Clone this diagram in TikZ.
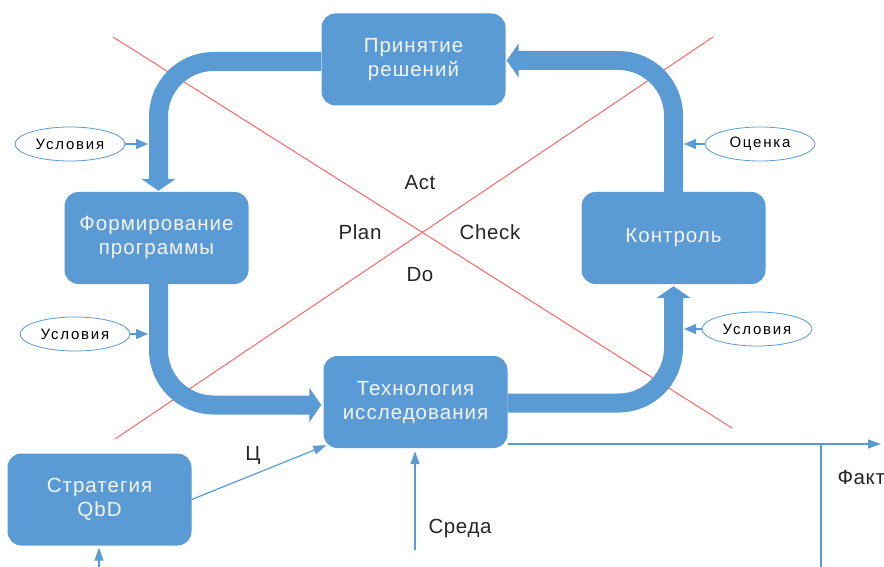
\documentclass[tikz,border=0pt]{standalone}
\usepackage{fontspec}
\setmainfont{Liberation Sans}
\usetikzlibrary{arrows.meta,calc,shapes.geometric}
\definecolor{boxblue}{HTML}{5B9BD5}
\definecolor{boxtext}{HTML}{F4F4F4}
\definecolor{redline}{HTML}{FF5A5A}
\newfontfamily\boxfont[LetterSpace=5]{Liberation Sans}
\newfontfamily\ellfont[LetterSpace=12]{Liberation Sans}
\newfontfamily\labfont[LetterSpace=3]{Liberation Sans}
\begin{document}
\begin{tikzpicture}[x=1pt,y=-1pt,
  bluebox/.style={draw=none,fill=boxblue,rounded corners=14pt,minimum width=184pt,minimum height=92pt,
    text=boxtext,align=center,font=\boxfont\fontsize{20.5}{24}\selectfont,inner sep=0pt},
  condell/.style={draw=boxblue,line width=0.8pt,fill=white,ellipse,minimum width=110pt,minimum height=34pt,
    inner sep=0pt,font=\ellfont\fontsize{15}{17}\selectfont},
  fatarrow/.style={draw=boxblue,line width=19pt,rounded corners=55pt,-{Triangle[width=34pt,length=12pt]}},
  smallarrow/.style={draw=boxblue,line width=1.2pt,-{Triangle[width=10pt,length=12pt]}},
  thinarrow/.style={draw=boxblue,line width=1.2pt,-{Triangle[width=9pt,length=13pt]}},
  thinline/.style={draw=boxblue,line width=1.2pt},
  crossline/.style={draw=redline,line width=0.9pt},
  pdca/.style={font=\labfont\fontsize{20.5}{23}\selectfont,text=black!85},
  sidelabel/.style={font=\labfont\fontsize{20.5}{23}\selectfont,text=black!85}
]
\useasboundingbox (0,0) rectangle (884,567);
\fill[white] (0,0) rectangle (884,567);

% red cross
\coordinate (rA1) at (113,37);
\coordinate (rA2) at (732,428);
\coordinate (rB1) at (713,37);
\coordinate (rB2) at (115,439);
\draw[crossline] (rA1) -- (rA2);
\draw[crossline] (rB1) -- (rB2);

% boxes
\node[bluebox] (prin) at (413.5,59.5) {Принятие\\решений};
\node[bluebox] (form) at (156.5,238) {Формирование\\программы};
\node[bluebox] (kont) at (673.5,238) {Контроль};
\node[bluebox] (tech) at (415.5,402) {Технология\\исследования};
\node[bluebox] (strat) at (99.5,499.5) {Стратегия\\QbD};

% fat cycle arrows
\draw[fatarrow] ($(prin.west)+(0,2)$) -| ($(form.north)+(2,-1)$);
\draw[fatarrow] ($(form.south)+(2,0)$) |- ($(tech.west)+(-2,3)$);
\draw[fatarrow] ($(tech.east)+(0,1)$) -| ($(kont.south)+(0,2)$);
\draw[fatarrow] (kont.north) |- ($(prin.east)+(1,1)$);

% condition ellipses
\node[condell] (u1) at (70,144) {Условия};
\node[condell] (u2) at (75,334) {Условия};
\node[condell] (oc) at (760,144) {Оценка};
\node[condell] (u3) at (757,329) {Условия};
\coordinate (bandL) at (148,0);
\coordinate (bandR) at (684,0);
\draw[smallarrow] (u1.east) -- (u1.east -| bandL);
\draw[smallarrow] (u2.east) -- (u2.east -| bandL);
\draw[smallarrow] (oc.west) -- (oc.west -| bandR);
\draw[smallarrow] (u3.west) -- (u3.west -| bandR);

% PDCA labels
\node[pdca] (act) at (420,183) {Act};
\node[pdca] (plan) at (360,232) {Plan};
\node[pdca] (check) at (490,232) {Check};
\node[pdca] (do) at (420,275) {Do};

% thin connectors
\draw[thinarrow] (strat.east) -- ($(tech.south west)+(3,-3)$);
\node[sidelabel] (ts) at (253,455) {Ц};
\coordinate (sreda0) at (415,550);
\draw[thinarrow,shorten >=3pt] (sreda0) -- (sreda0 |- tech.south);
\node[sidelabel] (sr) at (460,528) {Среда};
\coordinate (factEnd) at (881,444);
\draw[thinarrow] (tech.south east |- factEnd) -- (factEnd);
\coordinate (factDown) at (821,567);
\draw[thinline] (factDown |- factEnd) -- (factDown);
\node[sidelabel,anchor=west] (fakt) at (834,477) {Факт};
\coordinate (stratIn) at (99,567);
\draw[thinarrow,shorten >=2pt] (stratIn) -- (stratIn |- strat.south);
\end{tikzpicture}
\end{document}
